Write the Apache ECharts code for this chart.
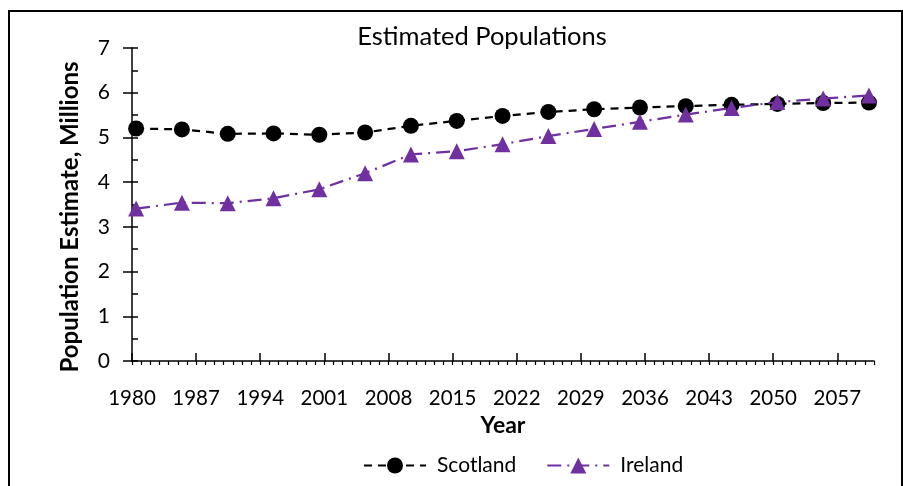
<!DOCTYPE html>
<html>
<head>
<meta charset="utf-8">
<script src="https://cdn.jsdelivr.net/npm/echarts@6/dist/echarts.min.js"></script>
<style>
  html, body { margin: 0; padding: 0; background: #fff; }
  #chart { width: 903px; height: 486px; }
</style>
</head>
<body>
<div id="chart"></div>
<script>
// ---- data ----
const years = [1980, 1985, 1990, 1995, 2000, 2005, 2010, 2015, 2020, 2025, 2030, 2035, 2040, 2045, 2050, 2055, 2060];
const midYear = 0.45; // mid-year estimates
const scotland = [5.20, 5.18, 5.08, 5.09, 5.06, 5.11, 5.26, 5.37, 5.48, 5.57, 5.63, 5.67, 5.70, 5.73, 5.75, 5.77, 5.78];
const ireland  = [3.41, 3.54, 3.53, 3.64, 3.84, 4.20, 4.62, 4.69, 4.85, 5.03, 5.19, 5.35, 5.51, 5.66, 5.79, 5.87, 5.94];
const tickYears = [1980, 1987, 1994, 2001, 2008, 2015, 2022, 2029, 2036, 2043, 2050, 2057];
const yTicks = [0, 1, 2, 3, 4, 5, 6, 7];

const FONT = 'Lato';
const PURPLE = '#7030A0';

const chart = echarts.init(document.getElementById('chart'), null, { renderer: 'canvas' });

const pairs = (vals) => years.map((y, i) => [y + midYear, vals[i]]);

const xBase = {
  type: 'value', min: 1980, max: 2061, position: 'bottom',
  splitLine: { show: false }
};
const yBase = {
  type: 'value', min: yTicks[0], max: yTicks[yTicks.length - 1], interval: 1, position: 'left',
  splitLine: { show: false }
};

chart.setOption({
  animation: false,
  backgroundColor: '#fff',
  textStyle: { fontFamily: FONT },
  title: {
    text: 'Estimated Populations',
    left: 477, top: 19, textAlign: 'center',
    textStyle: { fontFamily: FONT, fontSize: 25.5, fontWeight: 'normal', color: '#000' }
  },
  legend: {
    left: 358, top: 450,
    itemWidth: 62, itemHeight: 20, itemGap: 30,
    textStyle: { fontFamily: FONT, fontSize: 21, color: '#000', padding: [0, 0, 0, 6] },
    data: ['Scotland', 'Ireland']
  },
  grid: { left: 132, right: 29, top: 48, bottom: 125, containLabel: false },
  xAxis: [
    Object.assign({}, xBase, {
      interval: 1,
      name: 'Year', nameLocation: 'middle', nameGap: 52,
      nameTextStyle: { fontFamily: FONT, fontSize: 23, fontWeight: 'bold', color: '#000' },
      axisLine: { show: true, onZero: false, lineStyle: { color: '#000', width: 1.5 } },
      axisTick: { show: true, inside: false, length: 4, lineStyle: { color: '#000', width: 1.2 } },
      axisLabel: { show: true, customValues: tickYears, margin: 27, fontFamily: FONT, fontSize: 20.5, color: '#000',
        formatter: (v) => String(v) }
    }),
    Object.assign({}, xBase, {
      interval: 1,
      axisLine: { show: false, onZero: false },
      axisTick: { show: true, inside: true, length: 8, customValues: tickYears, lineStyle: { color: '#000', width: 1.5 } },
      axisLabel: { show: false }
    })
  ],
  yAxis: [
    Object.assign({}, yBase, {
      name: 'Population Estimate, Millions', nameLocation: 'middle', nameGap: 50,
      nameTextStyle: { fontFamily: FONT, fontSize: 24, fontWeight: 'bold', color: '#000', padding: [0, 25, 0, 0] },
      axisLine: { show: true, onZero: false, lineStyle: { color: '#000', width: 1.5 } },
      axisTick: { show: true, inside: false, length: 9, lineStyle: { color: '#000', width: 1.5 } },
      axisLabel: { show: true, margin: 22, fontFamily: FONT, fontSize: 21, color: '#000' }
    }),
    Object.assign({}, yBase, {
      axisLine: { show: false, onZero: false },
      axisTick: { show: true, inside: true, length: 6, lineStyle: { color: '#000', width: 1.5 } },
      minorTick: { show: true, splitNumber: 2, length: 6, lineStyle: { color: '#000', width: 1.5 } },
      axisLabel: { show: false }
    })
  ],
  series: [
    {
      name: 'Scotland', type: 'line', xAxisIndex: 0, yAxisIndex: 0,
      data: pairs(scotland),
      symbol: 'circle', symbolSize: 16,
      itemStyle: { color: '#000' },
      lineStyle: { color: '#000', width: 2.25, type: [8, 6] },
      z: 2
    },
    {
      name: 'Ireland', type: 'line', xAxisIndex: 0, yAxisIndex: 0,
      data: pairs(ireland),
      symbol: 'triangle', symbolSize: 16,
      itemStyle: { color: PURPLE },
      lineStyle: { color: PURPLE, width: 2.25, type: [14, 6, 2, 6] },
      z: 3
    }
  ],
  graphic: [
    {
      type: 'rect', silent: true,
      shape: { x: 9, y: 11, width: 893, height: 500 },
      style: { fill: 'none', stroke: '#000', lineWidth: 2 }
    }
  ]
});
</script>
</body>
</html>
